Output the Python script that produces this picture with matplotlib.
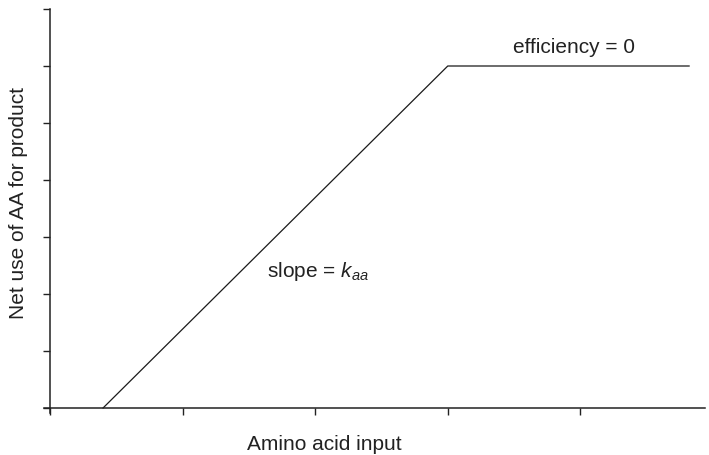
import matplotlib
matplotlib.use("Agg")
import matplotlib.pyplot as plt

# Data (piecewise response)
x_vals = [0.4, 3.0, 4.82]
y_vals = [0.0, 6.0, 6.0]
x_ticks = [0, 1, 2, 3, 4]
y_ticks = [0, 1, 2, 3, 4, 5, 6, 7]

plt.rcParams['font.family'] = ['Liberation Sans', 'DejaVu Sans']
plt.rcParams['mathtext.fontset'] = 'custom'
plt.rcParams['mathtext.it'] = 'Liberation Sans:italic'
plt.rcParams['mathtext.rm'] = 'Liberation Sans'

FS = 15
fig = plt.figure(figsize=(7.09, 4.55), dpi=100)
ax = fig.add_axes([50/709, (455-408)/455, (705-50)/709, (408-9)/455])

ax.plot(x_vals, y_vals, color='#1a1a1a', lw=0.9, clip_on=False)

ax.set_xlim(0, 4.94)
ax.set_ylim(0, 7)
ax.set_xticks(x_ticks)
ax.set_yticks(y_ticks)
ax.set_xticklabels([])
ax.set_yticklabels([])
ax.tick_params(direction='out', length=5, width=1, color='#222222')
for s in ['top', 'right']:
    ax.spines[s].set_visible(False)
for s in ['left', 'bottom']:
    ax.spines[s].set_linewidth(1.1)
    ax.spines[s].set_color('#222222')
ax.spines['left'].set_bounds(-0.09, 7)
ax.spines['bottom'].set_bounds(-0.045, 4.94)

fig.text(324/709, 1 - 445/455, 'Amino acid input', fontsize=FS, color='#222222',
         ha='center', va='center')
fig.text(19/709, 1 - 203/455, 'Net use of AA for product', fontsize=FS, color='#222222',
         ha='center', va='center', rotation=90)

ax.text(1.64, 2.39, r'slope = $k_{aa}$', fontsize=FS, color='#222222', va='center', ha='left')
ax.text(3.49, 6.33, 'efficiency = 0', fontsize=FS, color='#222222', va='center', ha='left')

fig.savefig('out.png', dpi=100)
